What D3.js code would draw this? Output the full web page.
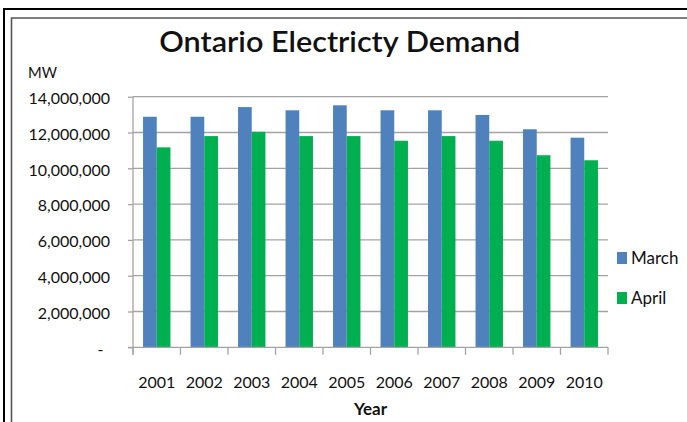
<!DOCTYPE html>
<html>
<head>
<meta charset="utf-8">
<script src="https://cdn.jsdelivr.net/npm/d3@7"></script>
<style>
  html, body { margin: 0; padding: 0; background: #fff; }
  svg { display: block; }
  text { font-family: Lato, "Open Sans", sans-serif; fill: #111; }
</style>
</head>
<body>
<svg id="chart" width="687" height="422"></svg>
<script>
// ---- data ----
const years = ["2001","2002","2003","2004","2005","2006","2007","2008","2009","2010"];
const seriesNames = ["March", "April"];
const march = [12880000, 12880000, 13420000, 13240000, 13520000, 13240000, 13240000, 12980000, 12180000, 11710000];
const april = [11170000, 11800000, 12040000, 11800000, 11800000, 11540000, 11800000, 11540000, 10730000, 10450000];
const yTicks = [0, 2000000, 4000000, 6000000, 8000000, 10000000, 12000000, 14000000];
const seriesColors = ["#4F81BD", "#00B050"];
const titleText = "Ontario Electricty Demand";
const yTitle = "MW";
const xTitle = "Year";

const rows = years.map((yr, i) => ({ year: yr, March: march[i], April: april[i] }));

// ---- layout ----
const svg = d3.select("#chart");
const plotLeft = 133, plotRight = 608, plotTop = 96.7, plotBottom = 347.3;

const x0 = d3.scaleBand().domain(years).range([plotLeft, plotRight]).paddingInner(0).paddingOuter(0);
const x1 = d3.scaleBand().domain(seriesNames).range([0, x0.bandwidth()]).paddingInner(0).paddingOuter(0.733);
const y = d3.scaleLinear().domain([0, 14000000]).range([plotBottom, plotTop]);
const color = d3.scaleOrdinal().domain(seriesNames).range(seriesColors);

// frame
svg.append("path").attr("d", `M4,422 V9 H687`).attr("fill", "none").attr("stroke", "#000").attr("stroke-width", 2);
svg.append("path").attr("d", `M11.5,422 V18 H687`).attr("fill", "none").attr("stroke", "#555").attr("stroke-width", 1.6);

// title
svg.append("text")
  .attr("x", 339.7).attr("y", 51.7)
  .attr("text-anchor", "middle")
  .attr("font-size", 29).attr("font-weight", 600)
  .attr("textLength", 361).attr("lengthAdjust", "spacingAndGlyphs")
  .text(titleText);

// gridlines
svg.append("g").selectAll("line").data(yTicks.filter(d => d > 0)).join("line")
  .attr("x1", plotLeft).attr("x2", plotRight)
  .attr("y1", d => y(d)).attr("y2", d => y(d))
  .attr("stroke", "#a3a3a3").attr("stroke-width", 1.3);

// bars
const groups = svg.append("g").selectAll("g").data(rows).join("g")
  .attr("transform", d => `translate(${x0(d.year)},0)`);
groups.selectAll("rect").data(d => seriesNames.map(k => ({ key: k, value: d[k] }))).join("rect")
  .attr("x", d => x1(d.key))
  .attr("width", x1.bandwidth())
  .attr("y", d => y(d.value))
  .attr("height", d => y(0) - y(d.value))
  .attr("fill", d => color(d.key));

// y axis
const yAxis = d3.axisLeft(y).tickValues(yTicks).tickSize(5).tickPadding(18)
  .tickFormat(d => d === 0 ? "-" : d3.format(",")(d));
const gy = svg.append("g").attr("transform", `translate(${plotLeft},0)`).call(yAxis);
gy.select(".domain").remove();
gy.selectAll(".tick line").attr("stroke", "#a3a3a3").attr("stroke-width", 1.3);
gy.selectAll(".tick text")
  .attr("font-size", 16).attr("font-family", "Lato, sans-serif").attr("fill", "#111")
  .attr("dy", "0.42em")
  .attr("x", d => d === 0 ? -29.5 : -23);
svg.append("line").attr("x1", plotLeft).attr("x2", plotLeft).attr("y1", plotTop).attr("y2", plotBottom + 7.5)
  .attr("stroke", "#a3a3a3").attr("stroke-width", 1.3);

// x axis
svg.append("line").attr("x1", plotLeft - 5).attr("x2", plotRight).attr("y1", plotBottom).attr("y2", plotBottom)
  .attr("stroke", "#a3a3a3").attr("stroke-width", 1.3);
const boundaries = years.map(d => x0(d)).concat([plotRight]);
svg.append("g").selectAll("line").data(boundaries).join("line")
  .attr("x1", d => d).attr("x2", d => d)
  .attr("y1", plotBottom).attr("y2", plotBottom + 7.5)
  .attr("stroke", "#a3a3a3").attr("stroke-width", 1.3);
const xAxis = d3.axisBottom(x0).tickSize(0).tickPadding(29.5);
const gx = svg.append("g").attr("transform", `translate(0,${plotBottom})`).call(xAxis);
gx.select(".domain").remove();
gx.selectAll(".tick text").attr("font-size", 16).attr("font-family", "Lato, sans-serif").attr("fill", "#111");

// axis titles
svg.append("text").attr("x", 28).attr("y", 78.3)
  .attr("font-size", 16).attr("font-weight", 400)
  .attr("textLength", 29).attr("lengthAdjust", "spacingAndGlyphs").text(yTitle);
svg.append("text").attr("x", (plotLeft + plotRight) / 2).attr("y", 415)
  .attr("text-anchor", "middle").attr("font-size", 17).attr("font-weight", 700).text(xTitle);

// legend
const legend = svg.append("g").selectAll("g").data(seriesNames).join("g")
  .attr("transform", (d, i) => `translate(617,${252 + i * 40})`);
legend.append("rect").attr("width", 10).attr("height", 12).attr("fill", d => color(d));
legend.append("text").attr("x", 14).attr("y", 12.3).attr("font-size", 17).text(d => d);
</script>
</body>
</html>
